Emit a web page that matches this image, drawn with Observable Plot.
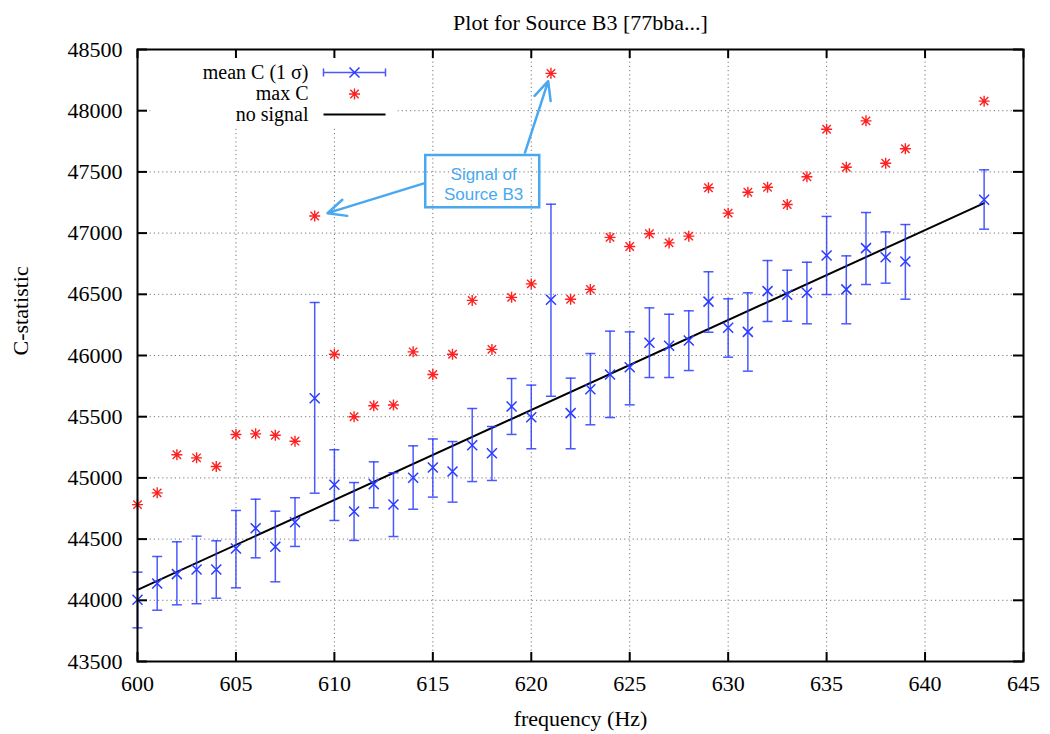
<!DOCTYPE html>
<html>
<head>
<meta charset="utf-8">
<script src="https://cdn.jsdelivr.net/npm/d3@7"></script>
<script src="https://cdn.jsdelivr.net/npm/@observablehq/plot@0.6"></script>
<style>
  html, body { margin: 0; padding: 0; background: #fff; }
</style>
</head>
<body>
<div id="chart"></div>
<script>
// ---------------- data ----------------
const freq = [600, 601, 602, 603, 604, 605, 606, 607, 608, 609,
              610, 611, 612, 613, 614, 615, 616, 617, 618, 619,
              620, 621, 622, 623, 624, 625, 626, 627, 628, 629,
              630, 631, 632, 633, 634, 635, 636, 637, 638, 639, 643];
const meanC = [44004, 44137, 44214, 44252, 44252, 44423, 44589, 44437, 44638, 45651,
               44944, 44725, 44949, 44783, 45001, 45085, 45052, 45267, 45202, 45583,
               45496, 46455, 45529, 45725, 45845, 45904, 46104, 46079, 46123, 46440,
               46226, 46193, 46526, 46496, 46512, 46817, 46540, 46877, 46803, 46768, 47272];
const meanHi = [44230, 44358, 44478, 44524, 44486, 44734, 44826, 44728, 44838, 46433,
                45230, 44962, 45131, 45042, 45262, 45318, 45297, 45567, 45420, 45812,
                45758, 47236, 45815, 46016, 46199, 46193, 46389, 46337, 46365, 46684,
                46463, 46512, 46776, 46697, 46762, 47136, 46814, 47168, 47010, 47070, 47517];
const meanLo = [43775, 43919, 43963, 43972, 44017, 44102, 44347, 44151, 44440, 44875,
                44652, 44489, 44756, 44521, 44744, 44843, 44802, 44970, 44979, 45355,
                45238, 45667, 45238, 45434, 45493, 45597, 45820, 45820, 45877, 46190,
                45986, 45872, 46278, 46280, 46259, 46498, 46259, 46580, 46591, 46460, 47032];
const maxC = [44782, 44878, 45189, 45164, 45093, 45355, 45360, 45349, 45300, 47140,
              46010, 45500, 45590, 45595, 46030, 45845, 46010, 46450, 46050, 46475,
              46585, 48305, 46460, 46540, 46965, 46890, 46995, 46920, 46975, 47370,
              47163, 47334, 47375, 47234, 47460, 47849, 47538, 47917, 47571, 47689, 48078];
const noSignalFreq = [600, 643];
const noSignalC = [44085, 47245];

const xTicks = [600, 605, 610, 615, 620, 625, 630, 635, 640, 645];
const yTicks = [43500, 44000, 44500, 45000, 45500, 46000, 46500, 47000, 47500, 48000, 48500];

const titleText = "Plot for Source B3 [77bba...]";
const xLabel = "frequency (Hz)";
const yLabel = "C-statistic";
const legendLabels = ["mean C (1 σ)", "max C", "no signal"];

// annotation (data coordinates)
const annoText = "Signal of\nSource B3";
const annoBox = {x1: 614.64, x2: 620.43, y1: 47207, y2: 47634};
const annoCenter = {x: 617.58, y: 47405};
const annoArrows = [
  {x1: 614.59, y1: 47408, x2: 609.65, y2: 47163},
  {x1: 619.68, y1: 47658, x2: 620.86, y2: 48241}
];

// ---------------- build ----------------
const rows = freq.map((f, i) => ({f, mean: meanC[i], hi: meanHi[i], lo: meanLo[i], max: maxC[i]}));
const lineRows = noSignalFreq.map((f, i) => ({f, c: noSignalC[i]}));

const BLUE = "#2a3cff";
const RED = "#ff2020";
const ANNO = "#4aa8f0";

const xSym = {draw(ctx) { const r = 5; ctx.moveTo(-r, -r); ctx.lineTo(r, r); ctx.moveTo(-r, r); ctx.lineTo(r, -r); }};
const starSym = {draw(ctx) {
  const a = 5.5, b = 4.2;
  ctx.moveTo(-a, 0); ctx.lineTo(a, 0); ctx.moveTo(0, -a); ctx.lineTo(0, a);
  ctx.moveTo(-b, -b); ctx.lineTo(b, b); ctx.moveTo(-b, b); ctx.lineTo(b, -b);
}};
const capSym = {draw(ctx) { ctx.moveTo(-5, 0); ctx.lineTo(5, 0); }};
const legErrSym = {draw(ctx) {
  ctx.moveTo(-31, 0); ctx.lineTo(31, 0);
  ctx.moveTo(-31, -4); ctx.lineTo(-31, 4);
  ctx.moveTo(31, -4); ctx.lineTo(31, 4);
}};
const legLineSym = {draw(ctx) { ctx.moveTo(-31, 0); ctx.lineTo(31, 0); }};
const legBgSym = {draw(ctx) { ctx.moveTo(0, 0); ctx.lineTo(247, 0); ctx.lineTo(247, 78); ctx.lineTo(0, 78); ctx.closePath(); }};

const W = 1050, H = 734;
const mL = 137, mR = 27, mT = 49, mB = 73;
const frameW = W - mL - mR, frameH = H - mT - mB;

const legDx = 171, legSymDx = 217, legDy = [23, 44.5, 65];
const legText = (i) => Plot.text([legendLabels[i]], {frameAnchor: "top-left", textAnchor: "end", lineAnchor: "middle",
  dx: legDx, dy: legDy[i], fontSize: 20, fill: "black"});

const chart = Plot.plot({
  width: W,
  height: H,
  marginLeft: mL,
  marginRight: mR,
  marginTop: mT,
  marginBottom: mB,
  style: {fontFamily: "'Liberation Serif', 'Times New Roman', serif", fontSize: "22px", background: "#fff"},
  x: {domain: [600, 645], axis: null},
  y: {domain: [43500, 48500], axis: null},
  marks: [
    // grid
    Plot.ruleX(xTicks.slice(1, -1), {x: d => d, stroke: "#777", strokeWidth: 1, strokeDasharray: "1.2,3"}),
    Plot.ruleY(yTicks.slice(1, -1), {y: d => d, stroke: "#777", strokeWidth: 1, strokeDasharray: "1.2,3"}),
    // legend background (opaque key)
    Plot.dot([0], {frameAnchor: "top-left", dx: 13, dy: 0, symbol: legBgSym, fill: "white", stroke: "none"}),
    // no signal line
    Plot.line(lineRows, {x: "f", y: "c", stroke: "black", strokeWidth: 2}),
    // error bars
    Plot.ruleX(rows, {x: "f", y1: "lo", y2: "hi", stroke: BLUE, strokeWidth: 1.5, strokeOpacity: 0.85}),
    Plot.dot(rows, {x: "f", y: "hi", symbol: capSym, fill: "none", stroke: BLUE, strokeWidth: 1.5, strokeOpacity: 0.85}),
    Plot.dot(rows, {x: "f", y: "lo", symbol: capSym, fill: "none", stroke: BLUE, strokeWidth: 1.5, strokeOpacity: 0.85}),
    Plot.dot(rows, {x: "f", y: "mean", symbol: xSym, fill: "none", stroke: BLUE, strokeWidth: 1.5}),
    // max C
    Plot.dot(rows, {x: "f", y: "max", symbol: starSym, fill: "none", stroke: RED, strokeWidth: 1.4}),
    // legend
    legText(0), legText(1), legText(2),
    Plot.dot([0], {frameAnchor: "top-left", dx: legSymDx, dy: legDy[0], symbol: legErrSym, fill: "none", stroke: BLUE, strokeWidth: 1.5, strokeOpacity: 0.85}),
    Plot.dot([0], {frameAnchor: "top-left", dx: legSymDx, dy: legDy[0], symbol: xSym, fill: "none", stroke: BLUE, strokeWidth: 1.5}),
    Plot.dot([0], {frameAnchor: "top-left", dx: legSymDx, dy: legDy[1], symbol: starSym, fill: "none", stroke: RED, strokeWidth: 1.4}),
    Plot.dot([0], {frameAnchor: "top-left", dx: legSymDx, dy: legDy[2], symbol: legLineSym, fill: "none", stroke: "black", strokeWidth: 2}),
    // annotation
    Plot.rect([annoBox], {x1: "x1", x2: "x2", y1: "y1", y2: "y2", fill: "none", stroke: ANNO, strokeWidth: 2.5}),
    Plot.text([annoText], {x: () => annoCenter.x, y: () => annoCenter.y, text: d => d,
      fontFamily: "'Liberation Sans', Arial, sans-serif", fontSize: 17, lineHeight: 1.2, fill: ANNO}),
    Plot.arrow(annoArrows, {x1: "x1", y1: "y1", x2: "x2", y2: "y2", stroke: ANNO, strokeWidth: 2.5, headLength: 12, headAngle: 50}),
    // frame
    Plot.frame({stroke: "black", strokeWidth: 2}),
    // ticks (inward, mirrored)
    Plot.tickX(xTicks, {x: d => d, insetTop: frameH - 9, stroke: "black", strokeWidth: 2}),
    Plot.tickX(xTicks, {x: d => d, insetBottom: frameH - 9, stroke: "black", strokeWidth: 2}),
    Plot.tickY(yTicks, {y: d => d, insetRight: frameW - 10, stroke: "black", strokeWidth: 2}),
    Plot.tickY(yTicks, {y: d => d, insetLeft: frameW - 10, stroke: "black", strokeWidth: 2}),
    // tick labels
    Plot.text(xTicks, {x: d => d, text: d => String(d), frameAnchor: "bottom", lineAnchor: "top", dy: 14, fill: "black"}),
    Plot.text(yTicks, {y: d => d, text: d => String(d), frameAnchor: "left", textAnchor: "end", lineAnchor: "middle", dx: -15, fill: "black"}),
    // titles
    Plot.text([titleText], {frameAnchor: "top", lineAnchor: "middle", dy: -27, fill: "black"}),
    Plot.text([xLabel], {frameAnchor: "bottom", lineAnchor: "middle", dy: 57, fill: "black"}),
    Plot.text([yLabel], {frameAnchor: "left", lineAnchor: "middle", rotate: -90, dx: -117, fill: "black"})
  ]
});

document.getElementById("chart").appendChild(chart);
</script>
</body>
</html>
